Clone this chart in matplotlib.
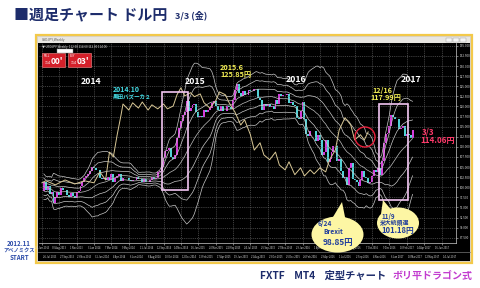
import numpy as np
import pandas as pd
import matplotlib
matplotlib.use("Agg")
import matplotlib.pyplot as plt
from matplotlib.patches import Rectangle, Ellipse, Polygon, Circle

plt.rcParams['font.family'] = ['Noto Sans CJK JP', 'DejaVu Sans']

# weekly USD/JPY closes, first week 2013-06-28
start_date = "2013-06-28"
closes_2013 = [99.1, 101.2, 99.2, 100.4, 98.3, 98.9, 96.2, 97.5, 98.7, 98.1, 99.7, 99.4, 99.4,
               98.2, 97.5, 98.6, 97.8, 97.4, 98.7, 99.1, 100.2, 101.2, 102.4, 102.9, 103.2, 104.0, 105.1]
closes_2014 = [104.8, 104.2, 104.3, 102.3, 102.0, 102.3, 101.8, 102.5, 101.8, 103.3,
               101.3, 102.3, 102.8, 103.3, 101.6, 102.4, 102.2, 102.2, 101.8, 101.5,
               101.9, 101.8, 102.5, 102.0, 102.0, 101.4, 102.0, 101.3, 101.3, 101.8,
               102.6, 102.0, 102.4, 103.8, 104.1, 105.1, 107.3, 109.0, 109.3, 109.8,
               107.6, 106.9, 108.1, 112.3, 114.6, 116.3, 117.8, 118.6, 121.4, 118.8,
               119.5, 120.4]
closes_2015 = [120.5, 118.5, 117.5, 117.7, 117.5, 119.1, 118.7, 119.0, 119.6, 120.8,
               121.4, 120.0, 119.1, 118.9, 120.2, 118.9, 118.9, 120.2, 119.8, 119.4,
               121.5, 124.1, 125.6, 123.4, 122.7, 123.9, 122.8, 122.8, 124.1, 123.8,
               123.9, 124.2, 124.3, 122.0, 121.7, 119.0, 120.6, 120.0, 120.5, 119.9,
               120.2, 119.4, 121.5, 120.6, 123.1, 122.6, 122.8, 122.8, 123.1, 120.9,
               121.1, 120.3]
closes_2016 = [120.2, 117.2, 116.9, 118.8, 121.1, 116.8, 113.2, 112.6, 114.0, 113.8,
               113.8, 111.5, 113.0, 111.7, 108.0, 108.8, 111.8, 106.3, 107.1, 108.6,
               110.2, 110.2, 106.5, 107.0, 104.1, 102.2, 102.5, 100.6, 104.8, 106.1,
               102.0, 101.8, 101.3, 100.2, 101.8, 104.0, 102.6, 102.3, 101.0, 101.4,
               102.9, 104.2, 103.8, 104.7, 103.1, 106.6, 110.9, 113.2, 113.5, 115.1,
               117.9, 117.3, 116.9]
closes_2017 = [117.0, 114.5, 114.6, 115.1, 112.6, 113.2, 112.9, 112.1, 114.06]
closes = closes_2013 + closes_2014 + closes_2015 + closes_2016 + closes_2017

# beige indicator line (week index, level)
tan_weeks = [0, 2, 7, 12, 17, 22, 27, 30, 33, 35, 37, 39, 41, 42, 45, 47, 50, 52, 55, 57,
             60, 63, 65, 68, 70, 72, 74, 77, 79, 82, 84, 87, 90, 92, 95, 97, 100, 103, 105,
             108, 110, 113, 115, 118, 121, 123, 126, 128, 131, 134, 136, 139, 141, 144, 147,
             149, 152, 154, 157, 160, 162, 165, 167, 169]
tan_values = [101.1, 101.6, 100.6, 101.8, 100.8, 101.6, 101.1, 103.8, 101.8, 108.7, 107.5,
              113.0, 117.9, 120.6, 119.1, 120.9, 119.6, 121.1, 119.1, 120.4, 119.4, 120.6,
              119.4, 120.1, 122.9, 124.6, 122.6, 123.4, 122.4, 123.1, 120.9, 119.6, 121.4,
              123.6, 122.9, 120.9, 118.6, 115.4, 116.7, 113.0, 109.2, 111.0, 108.0, 106.8,
              108.7, 105.5, 104.3, 106.3, 103.1, 104.8, 102.8, 104.3, 103.3, 104.8, 103.8,
              106.8, 109.2, 114.2, 117.2, 115.4, 111.7, 113.0, 111.7, 113.7]

year_labels = ["2014", "2015", "2016", "2017"]

W, H = 480, 288
NAVY = "#1d2c6b"
fig = plt.figure(figsize=(4.8, 2.88), dpi=100)
fig.patch.set_facecolor("white")


def rect(l, t, r, b):
    return [l / W, 1 - b / H, (r - l) / W, (b - t) / H]


# window frame behind the chart
bg = fig.add_axes([0, 0, 1, 1], zorder=0)
bg.set_xlim(0, W)
bg.set_ylim(H, 0)
bg.axis("off")
bg.add_patch(Rectangle((36, 35), 436, 228, facecolor="#d6d3ce", edgecolor="#f3c94a", lw=1.6))
bg.add_patch(Rectangle((38, 37), 432, 6, facecolor="#e8e6e2", edgecolor="none"))
bg.add_patch(Rectangle((38, 43), 432, 218, facecolor="black", edgecolor="none"))
bg.plot([38, 470], [252, 252], color="#777777", lw=0.5)
bg.text(42, 40, "USDJPY,Weekly", fontsize=2.3, color="#555555", va="center")
for bx in (446, 453, 460):
    bg.add_patch(Rectangle((bx, 38), 6, 4, facecolor="#f4f4f4", edgecolor="#999999", lw=0.3))

# chart
ax = fig.add_axes(rect(39, 43, 456, 243), zorder=1)
ax.set_facecolor("black")
c = np.array(closes)
o = np.r_[c[0], c[:-1]]
x = np.arange(len(c))
up = c >= o
ax.bar(x[up], (c - o)[up], bottom=o[up], width=1.0, color="#d53ddb", lw=0)
ax.bar(x[~up], (c - o)[~up], bottom=o[~up], width=1.0, color="#52d3d6", lw=0)

s = pd.Series(c)
mid = s.rolling(21, min_periods=2).mean()
sd = s.rolling(21, min_periods=2).std(ddof=0)
ax.plot(x, mid, color="#bdbdbd", lw=0.5)
for k in (1, 2, 3):
    ax.plot(x, mid + k * sd, color="#c8c8c8", lw=0.5)
    ax.plot(x, mid - k * sd, color="#c8c8c8", lw=0.5)

ax.plot(tan_weeks, tan_values, color="#d9c896", lw=0.7)

ax.set_xlim(-1.5, 214.5)
ax.set_ylim(86.2, 135.7)
dates = pd.date_range(start_date, periods=220, freq="7D")
xt = np.arange(0, 215, 9)
ax.set_xticks(xt)
ax.set_xticklabels([f"{d.day} {d:%b %Y}" for d in dates[xt]], fontsize=1.8, color="#dddddd")
for w in xt:
    d = dates[w + 4]
    ax.text(w + 4, -0.07, f"{d.day} {d:%b %Y}", transform=ax.get_xaxis_transform(),
            fontsize=1.8, color="#dddddd", ha="center", va="center", clip_on=False)
yt = np.arange(87.5, 135.7, 2.5)
ax.set_yticks(yt)
ax.set_yticklabels([f"{v:.3f}" for v in yt], fontsize=2.2, color="#dddddd")
ax.yaxis.tick_right()
ax.tick_params(length=1.5, width=0.4, color="#cccccc", pad=1)
ax.grid(True, color="#6a6a6a", lw=0.45, ls=(0, (1.5, 1.5)))
for side in ("top", "left"):
    ax.spines[side].set_visible(False)
for side in ("right", "bottom"):
    ax.spines[side].set_color("#cccccc")
    ax.spines[side].set_linewidth(0.5)

# annotations
ov = fig.add_axes([0, 0, 1, 1], zorder=2)
ov.set_xlim(0, W)
ov.set_ylim(H, 0)
ov.axis("off")
ov.patch.set_alpha(0)

ov.text(14, 14, "■週足チャート ドル円", fontsize=10.8, fontweight="bold", color=NAVY, va="center")
ov.text(175, 15, "3/3 (金)", fontsize=6.5, fontweight="bold", color=NAVY, va="center")

ov.text(42, 47, "▼ USDJPY,Weekly  112.00 114.60 112.00 114.06", fontsize=2.2, color="#dddddd", va="center")
for bx, lab, big in ((42, "SELL", "00"), (68, "BUY", "03")):
    ov.add_patch(Rectangle((bx, 53), 23, 14, facecolor="#d4202a", edgecolor="#ff9090", lw=0.4))
    ov.text(bx + 2, 56, lab, fontsize=2, color="white", va="center")
    ov.text(bx + 3, 63, "114", fontsize=2.6, color="white", va="center")
    ov.text(bx + 9, 61.5, big + "'", fontsize=6, color="white", fontweight="bold", va="center")
ov.add_patch(Rectangle((57, 49), 16, 4, facecolor="white", edgecolor="#888888", lw=0.3))

for (px, py), lab in zip([(91, 81), (195, 81), (296, 80), (411, 79)], year_labels):
    ov.text(px, py, lab, fontsize=6.3, fontweight="bold", color="white", ha="center", va="center")

ov.text(113, 89.5, "2014.10", fontsize=5, fontweight="bold", color="#44dde6", va="center")
ov.text(113, 96.5, "黒田バズーカ２", fontsize=4, fontweight="bold", color="#44dde6", va="center")
ov.text(220, 67.5, "2015.6", fontsize=5.2, fontweight="bold", color="#f4ef55", va="center")
ov.text(220, 75, "125.85円", fontsize=5.2, fontweight="bold", color="#f4ef55", va="center")
ov.text(372, 90, "12/16", fontsize=5.2, fontweight="bold", color="#f4ef55", va="center")
ov.text(370, 97.5, "117.99円", fontsize=5.2, fontweight="bold", color="#f4ef55", va="center")
ov.text(422, 131.5, "3/3", fontsize=5.8, fontweight="bold", color="#ff3a6a", va="center")
ov.text(420, 141, "114.06円", fontsize=5.8, fontweight="bold", color="#ff3a6a", va="center")

ov.add_patch(Rectangle((162, 92), 26, 98, facecolor="none", edgecolor="#f3c6f3", lw=1.2))
ov.add_patch(Rectangle((379, 104), 29, 96, facecolor="none", edgecolor="#f3c6f3", lw=1.2))
ov.add_patch(Circle((365, 137), 10, facecolor="none", edgecolor="#e8203c", lw=1.0))

BUB = "#fdf6a4"
TXT = "#1f3c9c"
ov.add_patch(Polygon([(330, 222), (342, 202), (346, 222)], facecolor=BUB, edgecolor="none"))
ov.add_patch(Ellipse((337.5, 234.5), 52, 36, facecolor=BUB, edgecolor="none"))
ov.text(318, 223.5, "6/24", fontsize=4.8, fontweight="bold", color=TXT, va="center")
ov.text(323, 231, "Brexit", fontsize=4.8, fontweight="bold", color=TXT, va="center")
ov.text(323, 243, "98.85円", fontsize=6, fontweight="bold", color=TXT, va="center")
ov.add_patch(Polygon([(381, 214), (383, 200), (393, 212)], facecolor=BUB, edgecolor="none"))
ov.add_patch(Ellipse((398, 223), 42, 31, facecolor=BUB, edgecolor="none"))
ov.text(382, 216, "11/9", fontsize=4.5, fontweight="bold", color=TXT, va="center")
ov.text(380, 223, "米大統領選", fontsize=4.2, fontweight="bold", color=TXT, va="center")
ov.text(381, 231, "101.18円", fontsize=5.5, fontweight="bold", color=TXT, va="center")

ov.text(19, 243, "2012.11", fontsize=4.4, fontweight="bold", color="#2a4aa8", ha="center", va="center")
ov.text(19, 250, "アベノミクス", fontsize=3.8, fontweight="bold", color="#2a4aa8", ha="center", va="center")
ov.text(19, 257, "START", fontsize=4.4, fontweight="bold", color="#2a4aa8", ha="center", va="center")

ov.text(260, 276, "FXTF    MT4    定型チャート", fontsize=7.4, fontweight="bold", color=NAVY, va="center")
ov.text(393, 276, "ボリ平ドラゴン式", fontsize=7.2, fontweight="bold", color="#c23ccf", va="center")

fig.savefig("out.png", dpi=100)
